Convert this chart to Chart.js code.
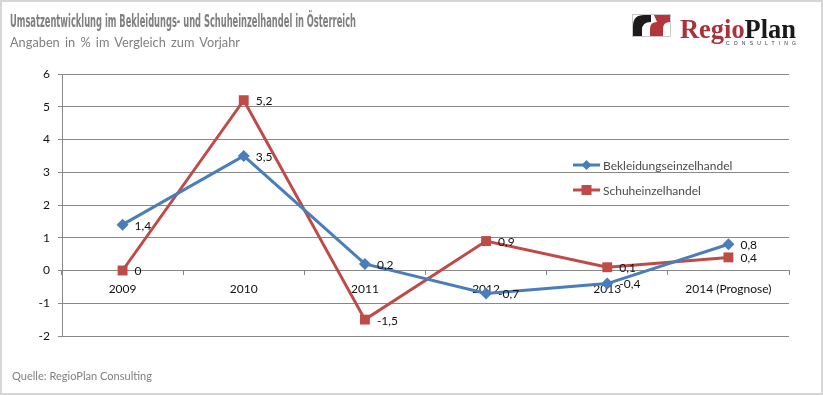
<!DOCTYPE html>
<html><head><meta charset="utf-8">
<script src="https://cdn.jsdelivr.net/npm/chart.js@4.4.1/dist/chart.umd.min.js"></script>
<style>
html,body{margin:0;padding:0;background:#fff;}
#wrap{position:relative;width:823px;height:395px;box-sizing:border-box;border:2px solid #d6d6d6;overflow:hidden;font-family:Lato,"Liberation Sans",sans-serif;}
#c{position:absolute;left:-2px;top:-2px;}
.t{position:absolute;white-space:nowrap;transform-origin:0 50%;color:#7f7f7f;}
#title{left:8px;top:9px;font-family:"Liberation Sans Narrow","DejaVu Sans Condensed",Lato,sans-serif;font-weight:bold;font-size:17px;line-height:20px;}
#sub{left:8px;top:32px;font-size:13px;line-height:16px;word-spacing:2px;}
#src{left:10px;top:366px;font-size:12px;line-height:16px;}
#logo{position:absolute;left:628px;top:10px;}
</style></head>
<body><div id="wrap">
<canvas id="c" width="823" height="395"></canvas>
<div class="t" id="title" data-w="346">Umsatzentwicklung im Bekleidungs- und Schuheinzelhandel in Österreich</div>
<div class="t" id="sub" data-w="230">Angaben in % im Vergleich zum Vorjahr</div>
<div class="t" id="src" data-w="140">Quelle: RegioPlan Consulting</div>
<svg id="logo" width="180" height="36" viewBox="0 0 180 36">
  <rect x="2.5" y="2.5" width="38" height="22" fill="none" stroke="#bbb" stroke-width="0.8"/>
  <path d="M3,24 L3,14 Q3,3 14,3 L21,3 L21,10 Q12,10 12,18 L12,24 Z" fill="#1c1c1c"/>
  <path d="M20,24 L20,17 Q20,10 27,10 L24,3 L40,3 L40,10 Q33,10 33,17 L33,24 Z" fill="#b2363c"/>
  <text x="50" y="26" font-family="'Liberation Serif','DejaVu Serif',serif" font-weight="bold" font-size="27" textLength="116" lengthAdjust="spacingAndGlyphs"><tspan fill="#a8343a">Regio</tspan><tspan fill="#1a1a1a">Plan</tspan></text>
  <text x="96" y="32.5" font-family="'Liberation Sans',sans-serif" font-size="5" fill="#333" textLength="70" lengthAdjust="spacing">CONSULTING</text>
</svg>
</div>
<script>
const categories = ['2009', '2010', '2011', '2012', '2013', '2014 (Prognose)'];
const bekleidung = [1.4, 3.5, 0.2, -0.7, -0.4, 0.8];
const schuhe = [0, 5.2, -1.5, 0.9, 0.1, 0.4];
const seriesNames = ['Bekleidungseinzelhandel', 'Schuheinzelhandel'];
const yMin = -2, yMax = 6, yStep = 1;

document.querySelectorAll('.t').forEach(el => {
  const w = el.getBoundingClientRect().width;
  const target = +el.dataset.w;
  el.style.transform = 'scaleX(' + (target / w) + ')';
});

const FONT = 'Lato, "Liberation Sans", sans-serif';
const fmt = v => String(v).replace('.', ',');

const labelPlugin = {
  id: 'vals',
  afterDatasetsDraw(chart) {
    const ctx = chart.ctx;
    ctx.save();
    ctx.font = '12px ' + FONT;
    ctx.fillStyle = '#111';
    ctx.textBaseline = 'middle';
    ctx.textAlign = 'left';
    chart.data.datasets.forEach((ds, i) => {
      chart.getDatasetMeta(i).data.forEach((pt, j) => {
        ctx.fillText(fmt(ds.data[j]), pt.x + 12, pt.y + 1);
      });
    });
    ctx.restore();
  }
};

const legendPlugin = {
  id: 'legendx',
  afterDraw(chart) {
    const ctx = chart.ctx;
    ctx.save();
    chart.data.datasets.forEach((ds, i) => {
      const y = 165 + i * 25;
      const x0 = 573, x1 = 600;
      ctx.strokeStyle = ds.borderColor;
      ctx.lineWidth = 3;
      ctx.beginPath(); ctx.moveTo(x0, y); ctx.lineTo(x1, y); ctx.stroke();
      ctx.fillStyle = ds.borderColor;
      const cx = (x0 + x1) / 2;
      if (ds.pointStyle === 'rectRot') {
        ctx.beginPath(); ctx.moveTo(cx, y - 5); ctx.lineTo(cx + 5, y); ctx.lineTo(cx, y + 5); ctx.lineTo(cx - 5, y); ctx.closePath(); ctx.fill();
      } else {
        ctx.fillRect(cx - 5, y - 5, 10, 10);
      }
      ctx.font = '12px ' + FONT;
      ctx.fillStyle = '#4a4a4a';
      ctx.textBaseline = 'middle';
      ctx.fillText(ds.label, 603, y + 1);
    });
    ctx.restore();
  }
};

new Chart(document.getElementById('c'), {
  type: 'line',
  data: {
    labels: categories,
    datasets: [
      { label: seriesNames[0], data: bekleidung, borderColor: '#4a7ebb', backgroundColor: '#4a7ebb',
        borderWidth: 3, pointStyle: 'rectRot', pointRadius: 6, pointBorderWidth: 0, tension: 0 },
      { label: seriesNames[1], data: schuhe, borderColor: '#be4b48', backgroundColor: '#be4b48',
        borderWidth: 3, pointStyle: 'rect', pointRadius: 7, pointBorderWidth: 0, tension: 0 }
    ]
  },
  options: {
    responsive: false,
    animation: false,
    devicePixelRatio: 1,
    layout: { padding: { left: 0, top: 74, right: 34, bottom: 59 } },
    plugins: { legend: { display: false }, tooltip: { enabled: false }, title: { display: false } },
    scales: {
      x: {
        type: 'category',
        position: { y: 0 },
        offset: true,
        grid: { display: true, drawOnChartArea: false, drawTicks: true, tickLength: 4, color: '#888', offset: true },
        border: { display: true, color: '#888', width: 1 },
        ticks: { font: { size: 12, family: FONT }, color: '#111', padding: 7, maxRotation: 0, autoSkip: false }
      },
      y: {
        min: yMin, max: yMax,
        afterFit(scale) { scale.width = 62; },
        grid: { color: '#888', lineWidth: 1, tickLength: 4, drawTicks: true },
        border: { display: true, color: '#888', width: 1 },
        ticks: { stepSize: yStep, font: { size: 12, family: FONT }, color: '#111', padding: 8,
          callback: v => String(v) }
      }
    }
  },
  plugins: [labelPlugin, legendPlugin]
});
</script>
</body></html>
